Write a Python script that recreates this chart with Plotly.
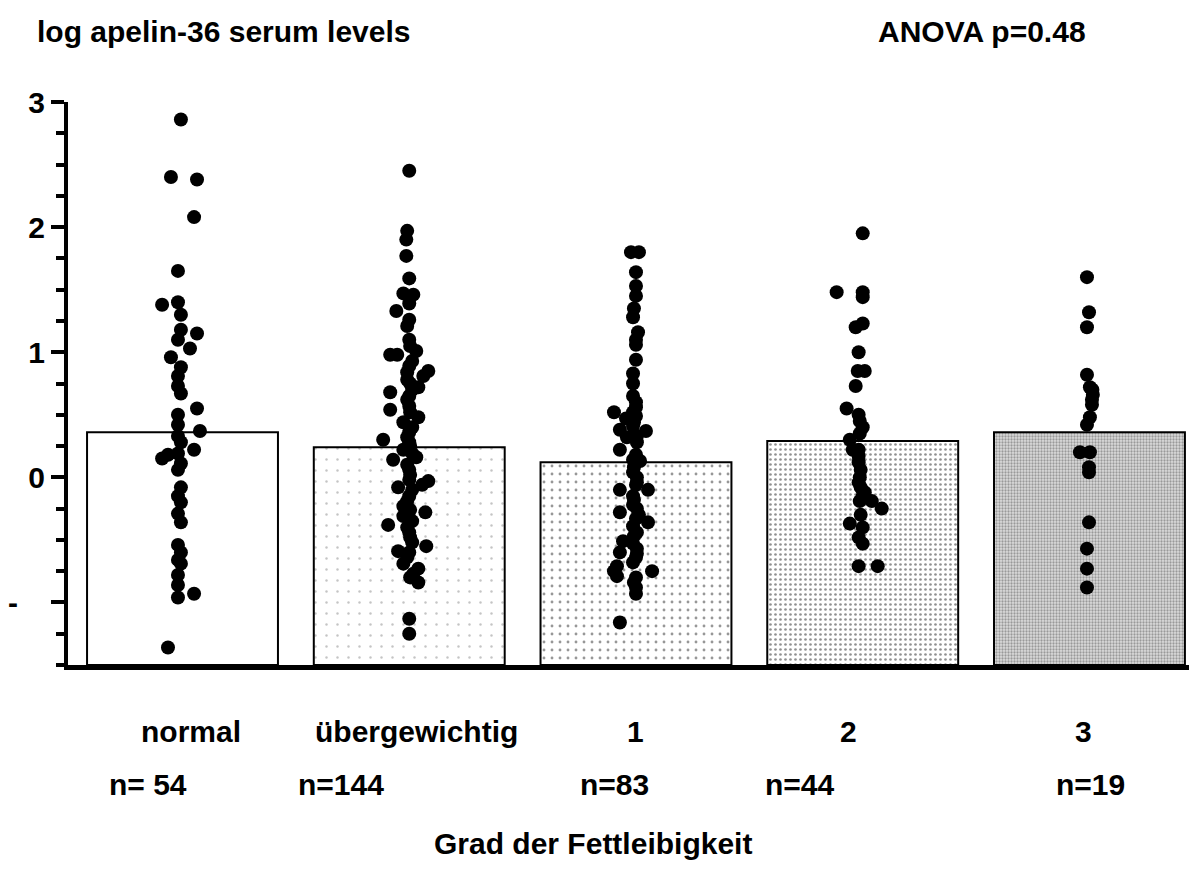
import plotly.graph_objects as go

# ---------------- data ----------------
categories = ["normal", "übergewichtig", "1", "2", "3"]
n_labels = ["n= 54", "n=144", "n=83", "n=44", "n=19"]
bar_means = [0.36, 0.24, 0.12, 0.29, 0.36]
y_floor = -1.5

normal_y = [2.86, 2.40, 2.38, 2.08, 1.65, 1.38, 1.40, 1.30, 1.18, 1.15,
            1.10, 1.03, 0.96, 0.88, 0.81, 0.73, 0.67, 0.55, 0.50, 0.42,
            0.37, 0.33, 0.28, 0.22, 0.15, 0.18, 0.19, 0.11, 0.06, -0.08,
            -0.15, -0.20, -0.29, -0.36, -0.54, -0.60, -0.66, -0.69, -0.78, -0.86,
            -0.96, -0.93, -1.36]
normal_dx = [-0.007, -0.051, 0.064, 0.051, -0.020, -0.090, -0.020, -0.007, -0.007, 0.064,
             -0.020, 0.033, -0.051, -0.007, -0.020, -0.020, -0.007, 0.064, -0.020, -0.020,
             0.077, -0.020, -0.007, 0.051, -0.090, -0.064, -0.020, -0.007, -0.020, -0.007,
             -0.020, -0.007, -0.020, -0.007, -0.020, -0.007, -0.020, -0.007, -0.020, -0.020,
             -0.020, 0.051, -0.064]

over_y = [2.45, 1.97, 1.90, 1.77, 1.59, 1.47, 1.46, 1.39, 1.33, 1.26,
          1.21, 1.10, 0.98, 0.98, 1.01, 0.89, 0.85, 0.81, 0.78, 0.72,
          0.68, 0.65, 0.54, 0.57, 0.48, 0.44, 0.36, 0.30, 0.28, 0.22,
          0.14, 0.16, 0.06, -0.02, -0.03, -0.06, -0.08, -0.15, -0.23, -0.28,
          -0.31, -0.38, -0.44, -0.55, -0.59, -0.60, -0.69, -0.73, -0.77, -0.84,
          -1.13, -1.25,
          1.05, 0.93, 0.84, 0.75, 0.70, 0.62, 0.52, 0.40, 0.32, 0.25,
          0.19, 0.10, 0.02, -0.10, -0.19, -0.26, -0.35, -0.40, -0.48, -0.52,
          -0.64, -0.80]
over_dx = [0.0, -0.009, -0.013, -0.013, 0.0, -0.026, 0.018, 0.0, -0.057, 0.0,
           -0.009, 0.0, -0.084, -0.053, 0.031, 0.0, 0.084, 0.062, -0.009, 0.040,
           -0.084, 0.0, -0.084, 0.0, 0.040, -0.026, 0.0, -0.115, 0.0, -0.026,
           -0.071, 0.031, 0.0, 0.0, 0.084, 0.057, -0.049, 0.0, -0.026, 0.071,
           -0.026, -0.093, 0.0, 0.075, -0.049, 0.0, -0.026, 0.040, 0.018, 0.040,
           0.0, 0.0,
           0.004, 0.013, -0.009, 0.004, 0.013, -0.009, 0.004, 0.013, -0.009, 0.004,
           0.013, -0.009, 0.004, 0.013, -0.009, 0.004, 0.013, -0.009, 0.004, 0.013,
           -0.009, 0.004]

g1_y = [1.80, 1.80, 1.64, 1.53, 1.45, 1.35, 1.28, 1.16, 1.10, 1.06,
        0.94, 0.83, 0.75, 0.65, 0.60, 0.52, 0.52, 0.47, 0.49, 0.38,
        0.41, 0.37, 0.32, 0.33, 0.22, 0.14, 0.13, 0.04, -0.04, -0.10,
        -0.10, -0.15, -0.22, -0.28, -0.30, -0.36, -0.39, -0.44, -0.51, -0.53,
        -0.60, -0.61, -0.68, -0.71, -0.75, -0.75, -0.79, -0.80, -0.88, -0.93,
        -1.16,
        0.56, 0.44, 0.28, 0.18, 0.08, 0.00, -0.06, -0.18, -0.25, -0.33,
        -0.47, -0.57, -0.64, -0.84]
g1_dx = [-0.022, 0.013, 0.0, 0.0, 0.0, -0.009, -0.013, 0.009, 0.0, 0.0,
         0.0, -0.013, -0.013, -0.013, 0.0, -0.097, -0.013, -0.044, 0.0, -0.071,
         -0.013, 0.044, -0.040, 0.004, -0.071, -0.013, 0.018, -0.013, 0.004, -0.071,
         0.053, -0.013, -0.013, -0.071, 0.013, 0.053, -0.013, 0.004, -0.057, -0.013,
         -0.071, 0.004, -0.013, -0.084, -0.097, 0.071, -0.084, 0.0, 0.0, 0.0,
         -0.071,
         0.0, -0.009, 0.004, 0.0, -0.009, 0.004, 0.0, -0.009, 0.004, 0.0,
         -0.009, 0.004, 0.0, -0.009]

g2_y = [1.95, 1.48, 1.48, 1.44, 1.20, 1.23, 1.00, 0.85, 0.85, 0.73,
        0.55, 0.50, 0.45, 0.40, 0.30, 0.22, 0.22, 0.12, 0.00, -0.04,
        -0.12, -0.19, -0.19, -0.25, -0.37, -0.40, -0.48, -0.53, -0.71, -0.71,
        0.35, 0.17, 0.06, -0.08, -0.15, -0.30]
g2_dx = [0.0, -0.115, 0.0, 0.0, -0.031, 0.0, -0.018, -0.022, 0.009, -0.031,
         -0.071, -0.018, -0.013, 0.0, -0.057, -0.044, -0.018, -0.018, -0.013, -0.018,
         0.009, -0.013, 0.040, 0.084, -0.057, 0.0, -0.018, 0.0, -0.018, 0.066,
         -0.013, -0.018, -0.009, -0.009, 0.0, -0.009]

g3_y = [1.60, 1.32, 1.20, 0.82, 0.72, 0.66, 0.58, 0.48, 0.42, 0.20,
        0.20, 0.08, 0.04, -0.36, -0.57, -0.73, -0.88, 0.70, 0.62]
g3_dx = [-0.011, -0.002, -0.011, -0.011, 0.002, 0.015, 0.011, 0.002, -0.011, -0.042,
         0.002, -0.002, -0.002, -0.002, -0.011, -0.011, -0.011, 0.013, 0.011]

groups_y = [normal_y, over_y, g1_y, g2_y, g3_y]
groups_dx = [normal_dx, over_dx, g1_dx, g2_dx, g3_dx]

# ---------------- styles ----------------
FONT = "Liberation Sans, Arial, sans-serif"
FS = 30
patterns = [
    dict(shape=""),
    dict(shape=".", size=11, solidity=0.04, fgcolor="#8a8a8a", bgcolor="white"),
    dict(shape=".", size=8, solidity=0.10, fgcolor="#303030", bgcolor="white"),
    dict(shape=".", size=5, solidity=0.22, fgcolor="#222222", bgcolor="white"),
    dict(shape=".", size=3, solidity=0.45, fgcolor="#555555", bgcolor="#dcdcdc"),
]

fig = go.Figure()

for i, cat in enumerate(categories):
    fig.add_trace(go.Bar(
        x=[i], y=[bar_means[i] - y_floor], base=[y_floor], width=0.842,
        marker=dict(color="white", line=dict(color="black", width=2),
                    pattern=patterns[i]),
        showlegend=False, hoverinfo="skip",
    ))

for i in range(len(categories)):
    fig.add_trace(go.Scatter(
        x=[i + d for d in groups_dx[i]], y=groups_y[i], mode="markers",
        marker=dict(size=14, color="black", line=dict(width=0)),
        showlegend=False, cliponaxis=False,
    ))

ann = []
label_shift = [8, 7, 0, -14, -6]
n_shift = [-35, -68, -21, -63, 1]
for i, cat in enumerate(categories):
    ann.append(dict(x=i, y=0, xref="x", yref="paper", text=cat, showarrow=False,
                    xanchor="center", yanchor="middle", xshift=label_shift[i], yshift=-66,
                    font=dict(family=FONT, size=FS, color="black", weight="bold")))
    ann.append(dict(x=i, y=0, xref="x", yref="paper", text=n_labels[i], showarrow=False,
                    xanchor="center", yanchor="middle", xshift=n_shift[i], yshift=-119,
                    font=dict(family=FONT, size=FS, color="black", weight="bold")))

ann.append(dict(x=0, y=1, xref="paper", yref="paper", text="log apelin-36 serum levels",
                showarrow=False, xanchor="left", yanchor="middle", xshift=-33, yshift=71,
                font=dict(family=FONT, size=FS, color="black", weight="bold")))
ann.append(dict(x=0, y=1, xref="paper", yref="paper", text="ANOVA p=0.48",
                showarrow=False, xanchor="left", yanchor="middle", xshift=808, yshift=71,
                font=dict(family=FONT, size=FS, color="black", weight="bold")))
ann.append(dict(x=0.5, y=0, xref="paper", yref="paper", text="Grad der Fettleibigkeit",
                showarrow=False, xanchor="center", yanchor="middle", xshift=-36, yshift=-178,
                font=dict(family=FONT, size=FS, color="black", weight="bold")))
ann.append(dict(x=0, y=-1, xref="paper", yref="y", text="-",
                showarrow=False, xanchor="center", yanchor="middle", xshift=-55,
                font=dict(family=FONT, size=FS, color="black", weight="bold")))

fig.update_layout(
    width=1189, height=889,
    margin=dict(l=68, r=0, t=102, b=224),
    plot_bgcolor="white", paper_bgcolor="white",
    barmode="overlay", showlegend=False,
    annotations=ann,
    xaxis=dict(range=[-0.505, 4.439], showgrid=False, zeroline=False,
               showline=True, linecolor="black", linewidth=5,
               showticklabels=False, ticks=""),
    yaxis=dict(range=[-1.5, 3.0], showgrid=False, zeroline=False,
               showline=True, linecolor="black", linewidth=4,
               tickvals=[-1, 0, 1, 2, 3], ticktext=["", "0", "1", "2", "3"],
               ticks="outside", ticklen=13, tickwidth=4, tickcolor="black",
               tickfont=dict(family=FONT, size=FS, color="black", weight="bold"),
               minor=dict(dtick=0.25, tick0=0, ticks="outside", ticklen=8,
                          tickwidth=4, tickcolor="black")),
)

fig.write_html("out.html")
